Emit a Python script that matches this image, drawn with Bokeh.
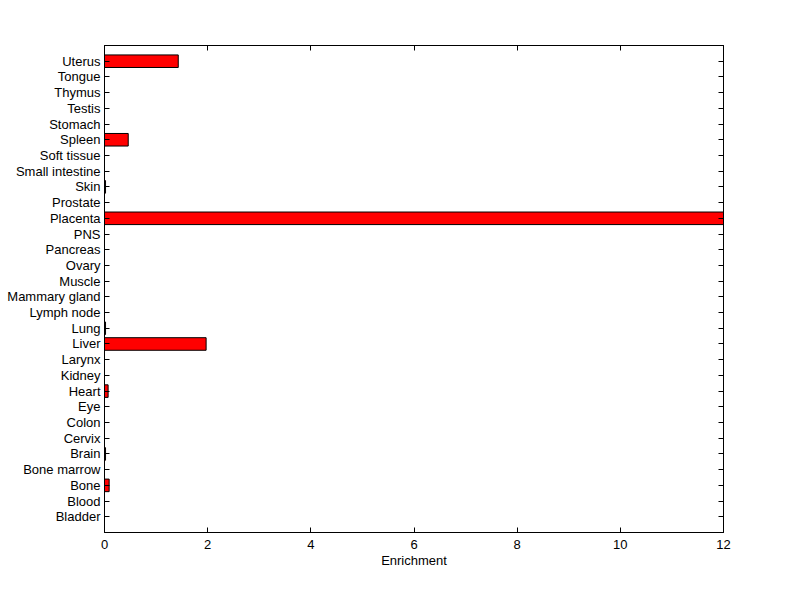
from bokeh.plotting import figure
from bokeh.models import (FactorRange, Range1d, LinearAxis, CategoricalAxis, FixedTicker,
                          CustomLabelingPolicy)
from bokeh.embed import file_html
from bokeh.resources import INLINE

tissues = ["Bladder", "Blood", "Bone", "Bone marrow", "Brain", "Cervix", "Colon", "Eye",
           "Heart", "Kidney", "Larynx", "Liver", "Lung", "Lymph node", "Mammary gland",
           "Muscle", "Ovary", "Pancreas", "PNS", "Placenta", "Prostate", "Skin",
           "Small intestine", "Soft tissue", "Spleen", "Stomach", "Testis", "Thymus",
           "Tongue", "Uterus"]
enrichment = [0.0, 0.0, 0.09, 0.0, 0.02, 0.0, 0.0, 0.0,
              0.07, 0.0, 0.0, 1.97, 0.02, 0.0, 0.0,
              0.0, 0.0, 0.0, 0.0, 12.0, 0.0, 0.02,
              0.0, 0.0, 0.46, 0.0, 0.0, 0.0,
              0.0, 1.43]
x_ticks = [0, 2, 4, 6, 8, 10, 12]

FONT = "Liberation Sans"

p = figure(y_range=FactorRange(*tissues, range_padding=0.5, range_padding_units="absolute"),
           x_range=Range1d(0, 12),
           frame_width=619, frame_height=487,
           min_border_left=104, min_border_right=76, min_border_top=45, min_border_bottom=66,
           output_backend="svg", toolbar_location=None,
           x_axis_label="Enrichment")

p.hbar(y=tissues, right=enrichment, left=0, height=0.8,
       fill_color="#ff0000", line_color="black", line_width=1)

p.xgrid.visible = False
p.ygrid.visible = False
p.outline_line_color = "black"
p.outline_line_width = 1
p.background_fill_color = "white"
p.border_fill_color = "white"

p.xaxis.ticker = FixedTicker(ticks=x_ticks)
for ax in p.xaxis + p.yaxis:
    ax.major_tick_in = 5
    ax.major_tick_out = 0
    ax.minor_tick_in = 0
    ax.minor_tick_out = 0
    ax.axis_line_color = "black"
    ax.major_tick_line_color = "black"
    ax.major_label_text_font = FONT
    ax.major_label_text_font_size = "13px"
    ax.major_label_text_color = "black"
    ax.axis_label_text_font = FONT
    ax.axis_label_text_font_size = "13px"
    ax.axis_label_text_font_style = "normal"
    ax.axis_label_text_color = "black"
p.yaxis.major_label_standoff = 4
p.xaxis.major_label_standoff = 7
p.xaxis.axis_label_standoff = 1

hide_all = "const ids = [...indices]; for (const i of ids) indices.unset(i); return indices"

top = LinearAxis(ticker=FixedTicker(ticks=x_ticks), major_tick_in=5, major_tick_out=0,
                 minor_tick_in=0, minor_tick_out=0, major_label_text_font_size="1px",
                 major_label_standoff=0,
                 major_label_policy=CustomLabelingPolicy(code=hide_all))
p.add_layout(top, "above")
right = CategoricalAxis(major_tick_in=5, major_tick_out=0, major_label_text_font_size="1px",
                        major_label_standoff=0,
                        major_label_policy=CustomLabelingPolicy(code=hide_all))
p.add_layout(right, "right")

open("out.html", "w").write(file_html(p, INLINE))
